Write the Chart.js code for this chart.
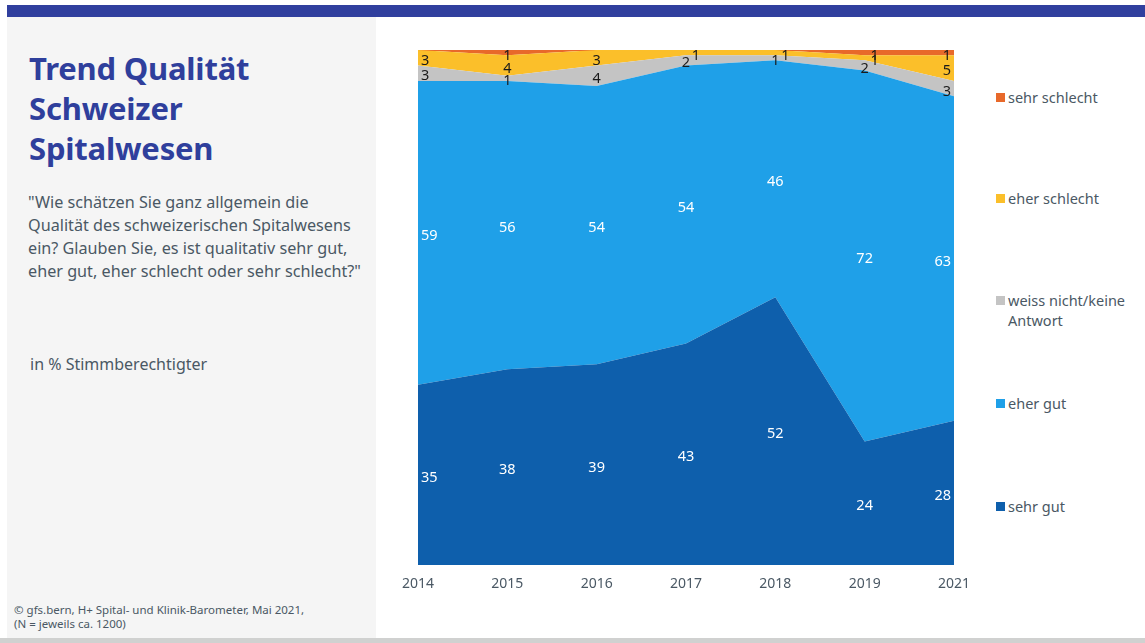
<!DOCTYPE html>
<html lang="de">
<head>
<meta charset="utf-8">
<title>Trend Qualität Schweizer Spitalwesen</title>
<script src="https://cdn.jsdelivr.net/npm/chart.js@4/dist/chart.umd.min.js"></script>
<style>
  html, body { margin: 0; padding: 0; background: #fff; }
  body { width: 1145px; height: 643px; position: relative; overflow: hidden; font-family: "Noto Sans", "Open Sans", sans-serif; color: #4a5864; }
  #topbar { position: absolute; left: 7px; top: 5px; width: 1138px; height: 12px; background: #303f9e; }
  #panel { position: absolute; left: 7px; top: 17px; width: 369px; height: 621px; background: #f5f5f5; }
  #bottombar { position: absolute; left: 0; top: 638px; width: 1145px; height: 5px; background: #d0d1d0; }
  #title { position: absolute; left: 29px; top: 48px; font-size: 31px; line-height: 40px; font-weight: 700; color: #2f3f9c; letter-spacing: -0.2px; }
  #question { position: absolute; left: 28px; top: 191px; white-space: nowrap; font-size: 16.2px; line-height: 23px; }
  #unit { position: absolute; left: 30px; top: 353px; font-size: 16px; }
  #source { position: absolute; left: 14px; top: 603px; font-size: 11.5px; line-height: 14px; }
  #chartbox { position: absolute; left: 388px; top: 30px; width: 596px; height: 580px; }
  #legend { position: absolute; left: 0; top: 0; }
  .lg { position: absolute; left: 996px; font-size: 14.5px; line-height: 20px; color: #4a5864; }
  .lg i { position: absolute; left: 0; top: 6px; width: 9px; height: 9px; }
  .lg span { display: block; padding-left: 12px; width: 130px; }
</style>
</head>
<body>
<div id="topbar"></div>
<div id="panel"></div>
<div id="bottombar"></div>
<div id="title">Trend Qualität<br>Schweizer<br>Spitalwesen</div>
<div id="question">"Wie schätzen Sie ganz allgemein die<br>Qualität des schweizerischen Spitalwesens<br>ein? Glauben Sie, es ist qualitativ sehr gut,<br>eher gut, eher schlecht oder sehr schlecht?"</div>
<div id="unit">in % Stimmberechtigter</div>
<div id="source">© gfs.bern, H+ Spital- und Klinik-Barometer, Mai 2021,<br>(N = jeweils ca. 1200)</div>
<div id="chartbox"><canvas id="chart"></canvas></div>
<div id="legend"></div>
<script>
// Survey years (2020 was not surveyed)
const years = ["2014", "2015", "2016", "2017", "2018", "2019", "2021"];

// Answer shares in percent, stacked from the bottom up
const sehrGut      = [35, 38, 39, 43, 52, 24, 28];
const eherGut      = [59, 56, 54, 54, 46, 72, 63];
const weissNicht   = [3, 1, 4, 2, 1, 2, 3];
const eherSchlecht = [3, 4, 3, 1, 1, 1, 5];
const sehrSchlecht = [0, 1, 0, 0, 0, 1, 1];

const seriesNames  = ["sehr gut", "eher gut", "weiss nicht/keine Antwort", "eher schlecht", "sehr schlecht"];
const seriesValues = [sehrGut, eherGut, weissNicht, eherSchlecht, sehrSchlecht];
const seriesColors = ["#0e5fac", "#1fa0e8", "#c4c4c4", "#fbbf2a", "#e8692a"];
const labelColors  = ["#ffffff", "#ffffff", "#1a1a1a", "#1a1a1a", "#1a1a1a"];

const FONT = '"Noto Sans", "Open Sans", sans-serif';

// Legend on the right, top item = last series
const legendTops = [496, 393, 290, 188, 87];
const legendEl = document.getElementById('legend');
seriesNames.forEach((name, i) => {
  const d = document.createElement('div');
  d.className = 'lg';
  d.style.top = legendTops[i] + 'px';
  d.innerHTML = '<i style="background:' + seriesColors[i] + '"></i><span>' + name + '</span>';
  legendEl.appendChild(d);
});

// Value labels centred in each band, kept inside the plot horizontally
const bandLabels = {
  id: 'bandLabels',
  afterDatasetsDraw(chart) {
    const ctx = chart.ctx;
    const area = chart.chartArea;
    const yScale = chart.scales.y;
    ctx.save();
    ctx.font = '14.5px ' + FONT;
    ctx.textAlign = 'center';
    ctx.textBaseline = 'middle';
    years.forEach((yr, j) => {
      let base = 0;
      let prevY = null;
      const x0 = chart.getDatasetMeta(0).data[j].x;
      seriesValues.forEach((vals, i) => {
        const v = vals[j];
        const yBot = yScale.getPixelForValue(base);
        const yTop = yScale.getPixelForValue(base + v);
        base += v;
        if (!v) return;
        const text = String(v);
        const w = ctx.measureText(text).width;
        let x = x0;
        let y = (yBot + yTop) / 2 + 3;
        y = Math.max(y, area.top + 4);
        if (prevY !== null && prevY - y < 10) {
          x += 10;
        }
        x = Math.min(Math.max(x, area.left + w / 2 + 3), area.right - w / 2 - 3);
        ctx.fillStyle = labelColors[i];
        ctx.fillText(text, x, y);
        prevY = y;
      });
    });
    ctx.restore();
  }
};

new Chart(document.getElementById('chart'), {
  type: 'line',
  data: {
    labels: years,
    datasets: seriesValues.map((vals, i) => ({
      label: seriesNames[i],
      data: vals,
      backgroundColor: seriesColors[i],
      borderColor: seriesColors[i],
      borderWidth: i === seriesValues.length - 1 ? 2 : 0,
      fill: i === 0 ? 'origin' : '-1',
      pointRadius: 0,
      tension: 0
    }))
  },
  options: {
    responsive: true,
    maintainAspectRatio: false,
    animation: false,
    layout: { padding: { top: 20, left: 30, right: 30, bottom: 0 } },
    plugins: { legend: { display: false }, tooltip: { enabled: false } },
    scales: {
      x: {
        offset: false,
        grid: { display: false, drawTicks: false },
        border: { display: false },
        ticks: { color: '#4a5864', font: { family: FONT, size: 14 }, padding: 11, maxRotation: 0 },
        afterFit(scale) { scale.height = 45; }
      },
      y: {
        display: false,
        stacked: true,
        min: 0,
        max: 100
      }
    }
  },
  plugins: [bandLabels]
});
</script>
</body>
</html>
